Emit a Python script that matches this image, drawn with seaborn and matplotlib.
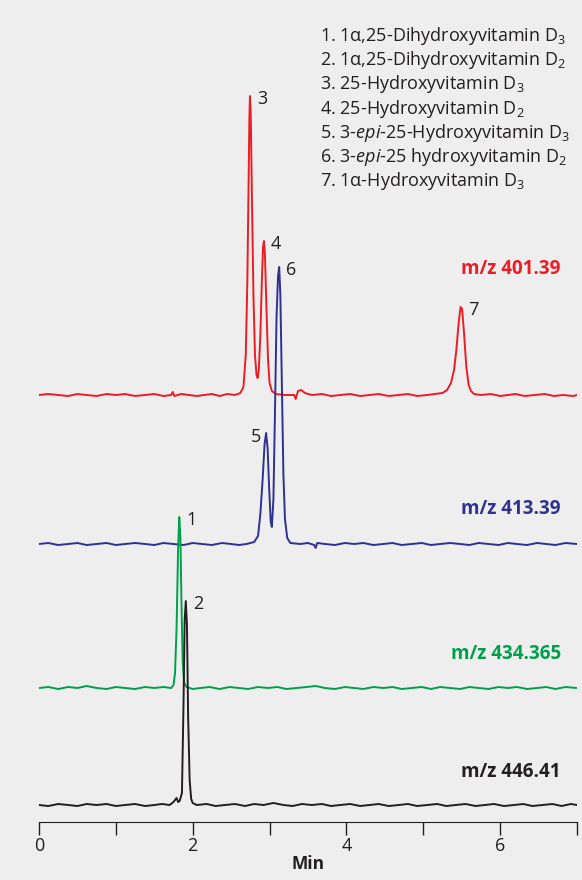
import pandas as pd
import seaborn as sns
import matplotlib.pyplot as plt

# chromatogram traces, time in min and signal height above each baseline
red_t = [0, 0.12, 0.25, 0.38, 0.5, 0.62, 0.75, 0.88, 1.0, 1.12, 1.25, 1.38, 1.5, 1.62, 1.72,
         1.74, 1.76, 1.85, 1.95, 2.05, 2.15, 2.25, 2.35, 2.45, 2.55, 2.62,
         2.66, 2.69, 2.71, 2.725, 2.737, 2.745, 2.755, 2.77, 2.79, 2.81, 2.83, 2.845, 2.86,
         2.88, 2.90, 2.915, 2.927, 2.94, 2.96, 2.98, 3.00, 3.03, 3.08, 3.2, 3.32, 3.34, 3.37,
         3.41, 3.46, 3.55, 3.68, 3.8, 3.92, 4.05, 4.18, 4.3, 4.42, 4.55, 4.68, 4.8, 4.92,
         5.05, 5.15, 5.25, 5.31, 5.36, 5.40, 5.43, 5.46, 5.485, 5.505, 5.53, 5.56, 5.59,
         5.62, 5.66, 5.75, 5.88, 6.0, 6.1, 6.2, 6.32, 6.45, 6.58, 6.7, 6.82, 6.95, 7.0]
red_y = [0, 1, 0, -1, 1, 0, -1, 1, 0, 1, -1, 0, 1, -1, 0,
         3, -1, 1, 0, -1, 0, 1, -1, 1, 0, 2,
         8, 40, 110, 200, 275, 299, 280, 200, 100, 40, 20, 17, 25,
         60, 115, 148, 154, 140, 85, 35, 12, 4, 1, 0, 0, -4, 4,
         5, 2, 0, 1, -1, 0, 1, -1, 0, 1, -1, 0, 1, -1,
         0, 1, 2, 5, 12, 25, 45, 72, 88, 86, 62, 28, 10,
         4, 1, 0, 1, -1, 0, 1, -1, 0, 1, -1, 0, -1, 0]

blue_t = [0, 0.12, 0.25, 0.38, 0.5, 0.62, 0.75, 0.88, 1.0, 1.12, 1.25, 1.38, 1.5, 1.62,
          1.75, 1.88, 2.0, 2.12, 2.25, 2.38, 2.5, 2.6, 2.7, 2.80, 2.85, 2.88,
          2.91, 2.935, 2.955, 2.975, 2.995, 3.015, 3.03, 3.05, 3.07, 3.09, 3.11, 3.125,
          3.14, 3.16, 3.18, 3.20, 3.23, 3.27, 3.4, 3.5, 3.58, 3.60, 3.62, 3.72, 3.85, 3.98,
          4.1, 4.22, 4.35, 4.48, 4.6, 4.72, 4.85, 4.98, 5.1, 5.22, 5.35, 5.48, 5.6, 5.72,
          5.85, 5.98, 6.1, 6.22, 6.35, 6.48, 6.6, 6.72, 6.85, 7.0]
blue_y = [0, 1, -1, 0, 1, -1, 0, 1, -1, 0, 1, 0, -1, 1,
          0, -1, 1, 0, -1, 1, 0, -1, 0, 2, 8, 30,
          65, 100, 111, 95, 55, 22, 17, 45, 130, 225, 268, 277,
          250, 160, 70, 25, 6, 1, 0, 1, -1, -4, 1, 0, -1, 1,
          0, 1, -1, 0, 1, -1, 0, 1, -1, 0, 1, 0, -1, 1,
          0, -1, 1, 0, -1, 1, 0, -1, 1, 0]

green_t = [0, 0.12, 0.25, 0.38, 0.5, 0.62, 0.75, 0.88, 1.0, 1.12, 1.25, 1.38, 1.5, 1.62,
           1.72, 1.75, 1.77, 1.79, 1.81, 1.825, 1.84, 1.855, 1.87, 1.89, 1.92, 2.0,
           2.1, 2.22, 2.35, 2.48, 2.6, 2.72, 2.85, 2.98, 3.1, 3.22, 3.35, 3.48, 3.6, 3.72,
           3.85, 3.98, 4.1, 4.22, 4.35, 4.48, 4.6, 4.72, 4.85, 4.98, 5.1, 5.22, 5.35, 5.48,
           5.6, 5.72, 5.85, 5.98, 6.1, 6.22, 6.35, 6.48, 6.6, 6.72, 6.85, 7.0]
green_y = [0, 1, -1, 1, 0, 2, 0, -1, 1, 0, -1, 1, 0, 1,
           0, 3, 15, 60, 140, 171, 150, 80, 25, 5, 1, -1,
           0, 1, -1, 1, 0, -1, 1, 0, 1, -1, 0, 1, 2, 0,
           -1, 1, 0, -1, 1, 0, 1, -1, 0, 1, -1, 1, 0, -1,
           1, 0, -1, 1, 0, 1, -1, 0, 1, -1, 1, 0]

black_t = [0, 0.12, 0.25, 0.38, 0.5, 0.62, 0.75, 0.88, 1.0, 1.12, 1.25, 1.38, 1.5, 1.6,
           1.7, 1.75, 1.79, 1.81, 1.83, 1.86, 1.88, 1.895, 1.91, 1.925, 1.94, 1.96, 1.98,
           2.0, 2.05, 2.18, 2.3, 2.42, 2.55, 2.68, 2.8, 2.92, 3.05, 3.18, 3.3, 3.42, 3.55,
           3.68, 3.8, 3.92, 4.05, 4.18, 4.3, 4.42, 4.55, 4.68, 4.8, 4.92, 5.05, 5.18, 5.3,
           5.42, 5.55, 5.68, 5.8, 5.92, 6.05, 6.18, 6.3, 6.42, 6.55, 6.68, 6.8, 6.92, 7.0]
black_y = [0, -1, 1, 0, -1, 1, 0, 1, -1, 0, 1, -1, 0, 1,
           0, 3, 7, 3, 4, 12, 100, 185, 204, 180, 90, 25, 6,
           2, 0, 1, -1, 0, 1, -1, 1, 0, 2, 0, -1, 1, 0,
           1, -1, 0, 1, -1, 0, 1, -1, 0, 1, -1, 0, 1, -1,
           0, 1, -1, 0, 1, -1, 0, 1, -1, 0, 1, -1, 1, 0]

trace_names = ["m/z 401.39", "m/z 413.39", "m/z 434.365", "m/z 446.41"]
trace_offsets = [427, 278, 134, 17]
trace_colors = ["#ed1c24", "#2e3192", "#00a04b", "#231f20"]
label_heights = [553, 313, 168, 50]

peak_nums = ["3", "4", "6", "7", "5", "1", "2"]
peak_times = [2.745, 2.927, 3.125, 5.495, 2.955, 1.825, 1.91]
peak_heights = [299 + 427, 154 + 427, 277 + 278, 88 + 427, 111 + 278, 171 + 134, 204 + 17]

legend_lines = [
    r"1. 1α,25-Dihydroxyvitamin D$_3$",
    r"2. 1α,25-Dihydroxyvitamin D$_2$",
    r"3. 25-Hydroxyvitamin D$_3$",
    r"4. 25-Hydroxyvitamin D$_2$",
    r"5. 3-$\mathit{epi}$-25-Hydroxyvitamin D$_3$",
    r"6. 3-$\mathit{epi}$-25 hydroxyvitamin D$_2$",
    r"7. 1α-Hydroxyvitamin D$_3$",
]

frames = []
for name, off, t, y in zip(trace_names, trace_offsets,
                           [red_t, blue_t, green_t, black_t],
                           [red_y, blue_y, green_y, black_y]):
    d = pd.DataFrame({"time": t, "signal": [v + off for v in y]})
    d["trace"] = name
    frames.append(d)
df = pd.concat(frames, ignore_index=True)

sns.set_style("ticks")
plt.rcParams["font.family"] = ["Open Sans", "DejaVu Sans"]
plt.rcParams["mathtext.fontset"] = "custom"
plt.rcParams["mathtext.rm"] = "Open Sans"
plt.rcParams["mathtext.it"] = "Open Sans:italic"
plt.rcParams["mathtext.bf"] = "Open Sans:bold"

bg = "#eeeeee"
fig = plt.figure(figsize=(5.82, 8.80), dpi=100, facecolor=bg)
ax = fig.add_axes([39 / 582, 58 / 880, 538 / 582, 800 / 880])
ax.set_facecolor(bg)

sns.lineplot(data=df, x="time", y="signal", hue="trace", palette=trace_colors,
             hue_order=trace_names, estimator=None, sort=False, lw=1.4,
             legend=False, ax=ax)

ax.set_xlim(0, 7)
ax.set_ylim(0, 800)
ax.set_xticks(range(8))
ax.set_xticklabels(["0", "", "2", "", "4", "", "6", ""], fontsize=13, color="#231f20")
ax.tick_params(axis="x", length=9, width=1, color="#231f20", pad=2)
ax.set_yticks([])
ax.set_ylabel("")
ax.set_xlabel("Min", fontsize=12.5, fontweight="bold", color="#231f20", labelpad=0)
sns.despine(ax=ax, left=True)
ax.spines["bottom"].set_color("#231f20")

for name, col, h in zip(trace_names, trace_colors, label_heights):
    ax.text(6.79, h, name, color=col, fontsize=13.5, fontweight="bold", ha="right", va="center")

for num, t, h in zip(peak_nums, peak_times, peak_heights):
    if num == "5":
        ax.annotate(num, (t, h), xytext=(-5, -4), textcoords="offset pixels",
                    ha="right", va="center", fontsize=13, color="#231f20")
    else:
        ax.annotate(num, (t, h), xytext=(7, -3), textcoords="offset pixels",
                    ha="left", va="center", fontsize=13, color="#231f20")

for i, line in enumerate(legend_lines):
    fig.text(320 / 582, 1 - (36 + 24.2 * i) / 880, line, fontsize=13,
             color="#231f20", ha="left", va="center")

fig.savefig("out.png", dpi=100, facecolor=bg)
